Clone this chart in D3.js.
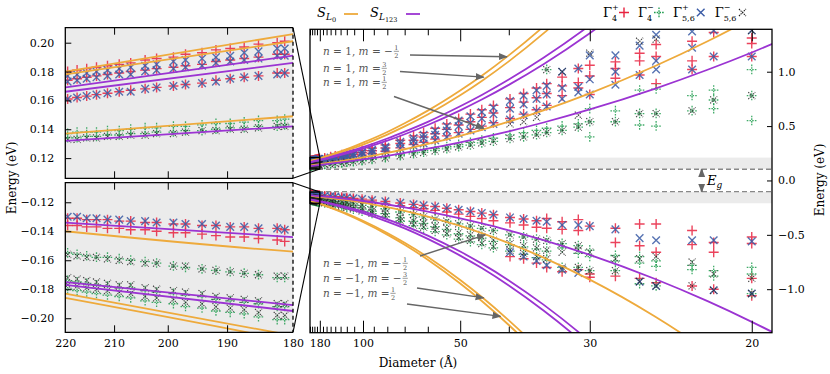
<!DOCTYPE html>
<html>
<head>
<meta charset="utf-8">
<script src="https://cdn.jsdelivr.net/npm/d3@7"></script>
<style>
  body { margin: 0; background: #fff; }
  svg text { font-family: "DejaVu Serif", serif; }
</style>
</head>
<body>
<div id="chart"></div>
<script>
// diameters (Å) of the computed nanocrystals shown in the insets
const insetD = [219.5, 217.5, 215.5, 213.5, 211.3, 209, 206.8, 204.1, 202, 199, 196.9, 194.1, 191.8, 189.5, 187.3, 185.1, 182.3, 181.2];
// diameters below 180 Å shown in the main panel
const mainD = [165, 150, 140, 128, 120, 111, 101, 91.5, 81.3, 72.3, 65.8, 61.6, 57.4, 53.7, 50.4, 47.5, 45, 42.7, 39.8, 37.7, 35.9, 34.6, 32.8, 31.1, 30, 27.8, 26, 24.9, 22.8, 21.7, 20];

// inset levels, one row per level along insetD (eV)
const g4pInset = [
  [0.180,0.181,0.182,0.183,0.184,0.185,0.186,0.188,0.189,0.190,0.192,0.193,0.195,0.196,0.197,0.199,0.200,0.201],
  [0.174,0.175,0.176,0.177,0.178,0.179,0.180,0.181,0.182,0.183,0.184,0.185,0.187,0.188,0.189,0.190,0.192,0.192],
  [0.161,0.162,0.163,0.164,0.165,0.166,0.167,0.168,0.169,0.170,0.171,0.172,0.174,0.175,0.176,0.177,0.179,0.179],
  [-0.131,-0.131,-0.132,-0.132,-0.132,-0.133,-0.133,-0.134,-0.134,-0.135,-0.135,-0.136,-0.136,-0.137,-0.137,-0.138,-0.138,-0.139],
  [-0.136,-0.136,-0.137,-0.137,-0.138,-0.138,-0.139,-0.139,-0.140,-0.141,-0.141,-0.142,-0.143,-0.144,-0.144,-0.145,-0.146,-0.147]
];
const g4mInset = [
  [0.134,0.134,0.135,0.135,0.136,0.136,0.137,0.137,0.138,0.138,0.139,0.139,0.140,0.141,0.141,0.142,0.142,0.143],
  [0.137,0.138,0.138,0.138,0.139,0.139,0.140,0.141,0.141,0.142,0.142,0.143,0.144,0.144,0.145,0.146,0.146,0.147],
  [-0.155,-0.156,-0.157,-0.158,-0.158,-0.159,-0.160,-0.161,-0.162,-0.164,-0.165,-0.166,-0.167,-0.168,-0.169,-0.170,-0.172,-0.172],
  [-0.174,-0.175,-0.176,-0.177,-0.178,-0.179,-0.179,-0.181,-0.182,-0.183,-0.184,-0.185,-0.187,-0.188,-0.189,-0.190,-0.192,-0.192],
  [-0.180,-0.181,-0.182,-0.183,-0.184,-0.185,-0.186,-0.188,-0.189,-0.190,-0.192,-0.193,-0.195,-0.196,-0.197,-0.199,-0.201,-0.201]
];
const g56pInset = [
  [0.177,0.178,0.179,0.180,0.181,0.182,0.183,0.184,0.185,0.187,0.188,0.189,0.190,0.191,0.193,0.194,0.196,0.196],
  [0.173,0.174,0.175,0.176,0.177,0.178,0.178,0.180,0.181,0.182,0.183,0.184,0.186,0.187,0.188,0.189,0.191,0.191],
  [0.161,0.162,0.163,0.164,0.165,0.166,0.166,0.168,0.169,0.170,0.171,0.172,0.173,0.175,0.176,0.177,0.178,0.179],
  [-0.130,-0.130,-0.131,-0.131,-0.132,-0.132,-0.133,-0.133,-0.134,-0.134,-0.135,-0.135,-0.136,-0.137,-0.137,-0.138,-0.138,-0.139]
];
const g56mInset = [
  [0.133,0.133,0.134,0.134,0.135,0.135,0.136,0.136,0.137,0.137,0.138,0.139,0.139,0.140,0.140,0.141,0.142,0.142],
  [-0.156,-0.157,-0.158,-0.158,-0.159,-0.160,-0.161,-0.162,-0.162,-0.164,-0.164,-0.166,-0.167,-0.168,-0.169,-0.170,-0.171,-0.171],
  [-0.172,-0.173,-0.174,-0.175,-0.176,-0.177,-0.177,-0.179,-0.180,-0.181,-0.182,-0.183,-0.185,-0.186,-0.187,-0.188,-0.190,-0.190],
  [-0.177,-0.178,-0.179,-0.180,-0.181,-0.182,-0.183,-0.185,-0.186,-0.187,-0.189,-0.190,-0.192,-0.193,-0.194,-0.196,-0.198,-0.198]
];

// main-panel levels, one list per diameter in mainD (eV)
const g4pMain = [
  [0.207,0.196,0.185,-0.142,-0.150],[0.217,0.205,0.193,-0.146,-0.155],[0.225,0.212,0.198,-0.150,-0.160],
  [0.236,0.222,0.206,-0.155,-0.166],[0.245,0.229,0.212,-0.159,-0.171],[0.258,0.240,0.221,-0.165,-0.178],
  [0.276,0.255,0.233,-0.172,-0.188],[0.297,0.273,0.248,-0.181,-0.199],[0.327,0.298,0.268,-0.193,-0.215],
  [0.37,0.34,0.30,-0.207,-0.232],[0.41,0.37,0.33,-0.22,-0.25],[0.44,0.40,0.35,-0.23,-0.26],
  [0.48,0.43,0.38,-0.24,-0.275],[0.52,0.47,0.41,-0.255,-0.29],[0.57,0.51,0.44,-0.27,-0.31],
  [0.61,0.54,0.47,-0.285,-0.33],[0.65,0.58,0.50,-0.30,-0.35],[0.69,0.62,0.53,-0.315,-0.37],
  [0.75,0.67,0.57,-0.34,-0.39,-0.70],[0.80,0.72,0.61,-0.355,-0.41,-0.72],[0.85,0.76,0.65,-0.37,-0.43,-0.76],
  [0.89,0.80,0.69,-0.35,-0.44,-0.80],[0.95,0.87,0.78,-0.38,-0.45,-0.84],[1.03,0.90,0.85,-0.36,-0.46,-0.82],
  [1.06,0.96,0.79,-0.42,-0.86,-0.89],[1.09,1.03,0.94,-0.44,-0.57,-0.88],[1.17,1.10,0.97,-0.40,-0.60,-0.90],
  [1.25,1.14,0.89,-0.40,-0.66,-0.94],[1.28,1.10,1.02,-0.46,-0.59,-0.97],[1.36,1.14,-0.57,-0.66,-1.0],
  [1.31,1.26,1.14,-0.52,-0.58,-0.90,-1.06]
];
const g4mMain = [
  [0.146,0.149,-0.178,-0.199,-0.208],[0.151,0.155,-0.186,-0.208,-0.219],[0.155,0.159,-0.192,-0.216,-0.228],
  [0.161,0.165,-0.200,-0.227,-0.241],[0.166,0.171,-0.206,-0.235,-0.251],[0.172,0.178,-0.215,-0.247,-0.266],
  [0.181,0.188,-0.226,-0.263,-0.284],[0.193,0.201,-0.241,-0.283,-0.305],[0.208,0.218,-0.26,-0.305,-0.335],
  [0.227,0.239,-0.29,-0.345,-0.375],[0.244,0.258,-0.315,-0.375,-0.415],[0.258,0.274,-0.335,-0.395,-0.44],
  [0.274,0.292,-0.355,-0.425,-0.47],[0.29,0.31,-0.375,-0.45,-0.50],[0.31,0.33,-0.40,-0.49,-0.54],
  [0.325,0.35,-0.42,-0.51,-0.565],[0.345,0.37,-0.44,-0.53,-0.59],[0.36,0.39,-0.46,-0.56,-0.62],
  [0.385,0.42,-0.50,-0.59,-0.65],[0.40,0.44,-0.52,-0.61,-0.68],[0.42,0.46,-0.54,-0.63,-0.71],
  [0.44,0.48,1.02,-0.55,-0.65,-0.73],[0.46,0.50,-0.58,-0.62,-0.80],[0.49,0.52,-0.60,-0.67,-0.80],
  [0.40,0.54,0.66,-0.64,-0.70,-0.83],[0.54,0.64,-0.69,-0.74,-0.83],[0.51,0.615,0.83,-0.70,-0.76,-0.95],
  [0.50,0.615,0.84,-0.74,-0.79,-0.97],[0.64,0.78,-0.78,-0.82],[0.66,0.74,0.83,-0.83,-0.88],
  [0.55,0.78,1.02,-0.80,-0.86,-1.04]
];
const g56pMain = [
  [0.200,0.195,0.184,-0.141],[0.210,0.204,0.192,-0.145],[0.217,0.211,0.197,-0.149],
  [0.227,0.220,0.205,-0.154],[0.235,0.227,0.211,-0.158],[0.246,0.238,0.220,-0.164],
  [0.262,0.252,0.232,-0.171],[0.281,0.270,0.247,-0.180],[0.31,0.295,0.267,-0.192],
  [0.355,0.335,0.295,-0.206],[0.39,0.365,0.32,-0.219],[0.42,0.39,0.34,-0.229],
  [0.46,0.42,0.37,-0.24],[0.50,0.46,0.40,-0.254],[0.55,0.50,0.43,-0.27],
  [0.59,0.53,0.46,-0.284],[0.63,0.57,0.49,-0.30],[0.67,0.61,0.52,-0.314],
  [0.73,0.66,0.56,-0.34,-0.66],[0.78,0.70,0.60,-0.355,-0.70],[0.83,0.75,0.64,-0.37,-0.74],
  [0.87,0.79,0.68,-0.38,-0.78],[1.00,0.85,0.75,-0.41,-0.82],[1.03,0.86,0.81,-0.41,-0.85],
  [1.15,0.93,0.79,-0.42],[1.15,1.00,0.88,-0.45],[1.24,0.97,-0.53,-0.93],
  [1.34,1.10,1.02,-0.55,-0.97],[1.37,1.22,1.02,-0.55],[1.38,1.14,-0.55,-1.01],
  [1.38,1.14,-0.56,-1.04]
];
const g56mMain = [
  [0.145,-0.177,-0.197,-0.205],[0.150,-0.185,-0.206,-0.216],[0.154,-0.191,-0.214,-0.225],
  [0.160,-0.199,-0.225,-0.238],[0.165,-0.205,-0.233,-0.248],[0.171,-0.214,-0.245,-0.262],
  [0.180,-0.225,-0.26,-0.28],[0.192,-0.24,-0.28,-0.30],[0.207,-0.26,-0.30,-0.33],
  [0.226,-0.29,-0.34,-0.37],[0.243,-0.315,-0.37,-0.41],[0.257,-0.335,-0.39,-0.43],
  [0.273,-0.355,-0.42,-0.46],[0.29,-0.375,-0.44,-0.49],[0.31,-0.40,-0.48,-0.53],
  [0.325,-0.42,-0.50,-0.55],[0.345,-0.44,-0.52,-0.58],[0.36,-0.46,-0.55,-0.61],
  [0.385,0.52,-0.50,-0.58,-0.64],[0.40,0.54,-0.52,-0.60,-0.67],[0.42,0.58,-0.54,-0.62,-0.70],
  [0.44,1.02,-0.55,-0.64,-0.72],[0.46,1.00,-0.58,-0.66,-0.80],[0.49,0.60,-0.60,-0.64,-0.80],
  [0.54,1.17,-0.66,-0.83],[0.54,-0.72,-0.83],[0.615,1.28,-0.72,-0.93],
  [0.615,1.30,-0.70,-0.97],[0.64,-0.75,-0.97],[0.74,-0.86,-1.01],
  [0.78,1.38,-0.90,-1.04]
];

// model curves, sampled at curveD
const curveD = [220, 180, 150, 120, 100, 80, 70, 60, 50, 45, 40, 35, 30, 25, 22, 20, 19];
const sL0 = [
  [0.180,0.206,0.238,0.289,0.348,0.446,0.526,0.642,0.827,0.963,1.150,1.415,1.81],
  [0.178,0.201,0.229,0.277,0.330,0.422,0.497,0.607,0.783,0.915,1.095,1.352,1.74],
  [0.137,0.149,0.163,0.186,0.212,0.254,0.287,0.336,0.411,0.466,0.540,0.645,0.801,1.050,1.280,1.49,1.62],
  [-0.140,-0.154,-0.162,-0.181,-0.203,-0.245,-0.279,-0.332,-0.418,-0.484,-0.576,-0.709,-0.912,-1.249,-1.568,-1.865],
  [-0.183,-0.212,-0.247,-0.305,-0.371,-0.483,-0.573,-0.705,-0.916,-1.072,-1.286,-1.590,-2.047],
  [-0.186,-0.216,-0.253,-0.313,-0.382,-0.498,-0.591,-0.729,-0.947,-1.108,-1.329,-1.643,-2.114]
];
const sL123 = [
  [0.169,0.191,0.217,0.260,0.307,0.386,0.449,0.539,0.682,0.786,0.928,1.128,1.426,1.90],
  [0.166,0.186,0.210,0.249,0.293,0.366,0.425,0.510,0.645,0.744,0.879,1.069,1.354,1.81],
  [0.132,0.142,0.154,0.173,0.193,0.227,0.254,0.292,0.351,0.394,0.452,0.533,0.653,0.843,1.018,1.177,1.275],
  [-0.134,-0.144,-0.153,-0.170,-0.189,-0.221,-0.247,-0.286,-0.348,-0.394,-0.458,-0.548,-0.684,-0.904,-1.110,-1.300,-1.417],
  [-0.175,-0.191,-0.211,-0.245,-0.285,-0.357,-0.417,-0.507,-0.654,-0.765,-0.919,-1.142,-1.481,-2.038],
  [-0.177,-0.195,-0.217,-0.256,-0.300,-0.378,-0.441,-0.537,-0.691,-0.806,-0.966,-1.196,-1.544,-2.113]
];

const majorX = [180, 100, 50, 30, 20];
const minorX = [220, 210, 200, 190, 170, 160, 150, 140, 130, 120, 110, 90, 80, 70, 60, 40];
const insetX = [220, 210, 200, 190, 180];
const energyTicks = [-1, -0.5, 0, 0.5, 1];
const topInsetTicks = [0.12, 0.14, 0.16, 0.18, 0.20];
const botInsetTicks = [-0.20, -0.18, -0.16, -0.14, -0.12];

const FONT = "DejaVu Serif, serif";
const orange = "#eeaa3c", purple = "#9b34d2", noteColor = "#555";
const symbols = [
  { inset: g4pInset, main: g4pMain, color: "#e8223f", shape: "plus", r: 5, w: 1.4, dash: null, sup: "+", sub: "4" },
  { inset: g4mInset, main: g4mMain, color: "#1e9c4e", shape: "plus", r: 5, w: 1.3, dash: "1.6,1.1", sup: "\u2212", sub: "4" },
  { inset: g56pInset, main: g56pMain, color: "#3b5ca6", shape: "cross", r: 3.8, w: 1.4, dash: null, sup: "+", sub: "5,6" },
  { inset: g56mInset, main: g56mMain, color: "#222222", shape: "cross", r: 3.5, w: 1.1, dash: "1.4,0.9", sup: "\u2212", sub: "5,6" }
];

const svg = d3.select("#chart").append("svg").attr("width", 830).attr("height", 374)
  .attr("font-family", FONT);

const main = { l: 310, r: 772, t: 29.3, b: 332.7 };
const ins = { l: 65.3, r: 293, t1: 27.7, b1: 178.3, t2: 182.7, b2: 332.3 };

const xMain = d3.scalePow().exponent(-1).domain([220, 19.2]).range([main.l, main.r]);
const yMain = d3.scaleLinear().domain([-1.4, 1.39]).range([main.b, main.t]);
const xIns = d3.scalePow().exponent(-1).domain([220, 180]).range([ins.l, ins.r]);
const yTop = d3.scaleLinear().domain([0.106, 0.2104]).range([ins.b1, ins.t1]);
const yBot = d3.scaleLinear().domain([-0.2097, -0.1065]).range([ins.b2, ins.t2]);

const defs = svg.append("defs");
function clip(id, x0, y0, x1, y1) {
  defs.append("clipPath").attr("id", id).append("rect")
    .attr("x", x0).attr("y", y0).attr("width", x1 - x0).attr("height", y1 - y0);
}
clip("cMain", main.l, main.t, main.r, main.b);
clip("cTop", ins.l, ins.t1, ins.r, ins.b1);
clip("cBot", ins.l, ins.t2, ins.r, ins.b2);
defs.append("marker").attr("id", "arr").attr("viewBox", "0 0 10 10").attr("refX", 9).attr("refY", 5)
  .attr("markerWidth", 9).attr("markerHeight", 9).attr("markerUnits", "userSpaceOnUse").attr("orient", "auto-start-reverse")
  .append("path").attr("d", "M0,1 L10,5 L0,9 z").attr("fill", "#666");

// flatten points
function pointsFor(s) {
  const pts = [];
  s.inset.forEach(row => row.forEach((e, i) => pts.push({ d: insetD[i], e })));
  s.main.forEach((col, i) => col.forEach(e => pts.push({ d: mainD[i], e })));
  return pts;
}
function markerPath(shape, r) {
  return shape === "plus"
    ? `M${-r},0H${r}M0,${-r}V${r}`
    : `M${-r},${-r}L${r},${r}M${-r},${r}L${r},${-r}`;
}

function drawPanel(x, y, clipId, bands) {
  const g = svg.append("g").attr("clip-path", `url(#${clipId})`);
  (bands || []).forEach(b => {
    g.append("rect").attr("x", main.l).attr("width", main.r - main.l)
      .attr("y", y(b[1])).attr("height", y(b[0]) - y(b[1])).attr("fill", "#ebebeb");
  });
  symbols.forEach(s => {
    g.append("g").selectAll("path").data(pointsFor(s)).join("path")
      .attr("transform", p => `translate(${x(p.d)},${y(p.e)})`)
      .attr("d", markerPath(s.shape, s.r))
      .attr("fill", "none").attr("stroke", s.color).attr("stroke-width", s.w)
      .attr("stroke-opacity", 0.85).attr("stroke-dasharray", s.dash);
  });
  const line = d3.line().x(p => x(p[0])).y(p => y(p[1])).curve(d3.curveMonotoneX);
  [[sL0, orange], [sL123, purple]].forEach(([set, col]) => {
    set.forEach(vals => {
      g.append("path").datum(vals.map((v, i) => [curveD[i], v]))
        .attr("d", line).attr("fill", "none").attr("stroke", col).attr("stroke-width", 1.8);
    });
  });
  return g;
}

// inset backgrounds
svg.append("rect").attr("x", ins.l).attr("y", ins.t1).attr("width", ins.r - ins.l).attr("height", ins.b1 - ins.t1).attr("fill", "#ebebeb");
svg.append("rect").attr("x", ins.l).attr("y", ins.t2).attr("width", ins.r - ins.l).attr("height", ins.b2 - ins.t2).attr("fill", "#ebebeb");

// main panel
drawPanel(xMain, yMain, "cMain", [[0.106, 0.2104], [-0.2097, -0.1065]]);
[0.103, -0.103].forEach(e => {
  svg.append("line").attr("x1", main.l).attr("x2", main.r).attr("y1", yMain(e)).attr("y2", yMain(e))
    .attr("stroke", "#888").attr("stroke-width", 1.3).attr("stroke-dasharray", "5,3");
});
drawPanel(xIns, yTop, "cTop");
drawPanel(xIns, yBot, "cBot");

// zoom rectangles in main panel and connectors
const zx0 = xMain(220), zx1 = xMain(180);
[[0.2104, 0.106, ins.t1, ins.b1], [-0.1065, -0.2097, ins.t2, ins.b2]].forEach(([e0, e1, t, b]) => {
  svg.append("rect").attr("x", zx0).attr("y", yMain(e0)).attr("width", zx1 - zx0).attr("height", yMain(e1) - yMain(e0))
    .attr("fill", "none").attr("stroke", "#000").attr("stroke-width", 1.4);
  svg.append("line").attr("x1", ins.r).attr("y1", t).attr("x2", zx1).attr("y2", yMain(e0)).attr("stroke", "#000").attr("stroke-width", 1.1);
  svg.append("line").attr("x1", ins.r).attr("y1", b).attr("x2", zx1).attr("y2", yMain(e1)).attr("stroke", "#000").attr("stroke-width", 1.1);
});

// axes styling helper
function styleAxis(g) {
  g.select(".domain").remove();
  g.attr("font-family", FONT).attr("font-size", 11);
  g.selectAll(".tick line").attr("stroke", "#000").attr("stroke-width", 1);
  g.selectAll(".tick text").attr("fill", "#000");
}
const fmtInt = d3.format("d");
svg.append("g").attr("transform", `translate(0,${main.b})`)
  .call(d3.axisBottom(xMain).tickValues(majorX).tickSize(-12).tickPadding(7).tickFormat(fmtInt)).call(styleAxis);
svg.append("g").attr("transform", `translate(0,${main.b})`)
  .call(d3.axisBottom(xMain).tickValues(minorX).tickSize(-6).tickFormat("")).call(styleAxis);
svg.append("g").attr("transform", `translate(0,${main.t})`)
  .call(d3.axisTop(xMain).tickValues(majorX).tickSize(-12).tickFormat("")).call(styleAxis);
svg.append("g").attr("transform", `translate(0,${main.t})`)
  .call(d3.axisTop(xMain).tickValues(minorX).tickSize(-6).tickFormat("")).call(styleAxis);
svg.append("g").attr("transform", `translate(${main.r},0)`)
  .call(d3.axisRight(yMain).tickValues(energyTicks).tickSize(-5).tickPadding(6).tickFormat(d3.format(".1f"))).call(styleAxis);

// inset axes
svg.append("g").attr("transform", `translate(${ins.l},0)`)
  .call(d3.axisLeft(yTop).tickValues(topInsetTicks).tickSize(-6).tickPadding(11).tickFormat(d3.format(".2f"))).call(styleAxis);
svg.append("g").attr("transform", `translate(${ins.l},0)`)
  .call(d3.axisLeft(yBot).tickValues(botInsetTicks).tickSize(-6).tickPadding(11).tickFormat(d3.format(".2f"))).call(styleAxis);
[ins.b1, ins.b2].forEach(y0 => svg.append("g").attr("transform", `translate(0,${y0})`)
  .call(d3.axisBottom(xIns).tickValues([210, 200, 190]).tickSize(-7).tickFormat("")).call(styleAxis));
[ins.t1, ins.t2].forEach(y0 => svg.append("g").attr("transform", `translate(0,${y0})`)
  .call(d3.axisTop(xIns).tickValues([210, 200, 190]).tickSize(-7).tickFormat("")).call(styleAxis));
svg.append("g").attr("transform", `translate(0,${ins.b2})`)
  .call(d3.axisBottom(xIns).tickValues(insetX).tickSize(0).tickPadding(7).tickFormat(fmtInt)).call(styleAxis);

// frames
svg.append("rect").attr("x", main.l).attr("y", main.t).attr("width", main.r - main.l).attr("height", main.b - main.t)
  .attr("fill", "none").attr("stroke", "#000").attr("stroke-width", 1.3);
[[ins.t1, ins.b1], [ins.t2, ins.b2]].forEach(([t, b]) => {
  svg.append("path").attr("d", `M${ins.r},${t}H${ins.l}V${b}H${ins.r}`).attr("fill", "none").attr("stroke", "#000").attr("stroke-width", 1.3);
  svg.append("line").attr("x1", ins.r).attr("x2", ins.r).attr("y1", t).attr("y2", b)
    .attr("stroke", "#000").attr("stroke-width", 1.3).attr("stroke-dasharray", "4,3");
});

// axis titles
svg.append("text").attr("x", 418).attr("y", 367).attr("text-anchor", "middle").attr("font-size", 12).text("Diameter (\u00c5)");
svg.append("text").attr("transform", "translate(16,178) rotate(-90)").attr("text-anchor", "middle").attr("font-size", 12).text("Energy (eV)");
svg.append("text").attr("transform", "translate(824,180) rotate(-90)").attr("text-anchor", "middle").attr("font-size", 12).text("Energy (eV)");

// annotations
function note(x, y, nVal, sign, num, den) {
  const g = svg.append("g").attr("fill", noteColor);
  const t = g.append("text").attr("x", x).attr("y", y).attr("font-size", 10.5);
  t.append("tspan").attr("font-style", "italic").text("n");
  t.append("tspan").text(" = " + nVal + ", ");
  t.append("tspan").attr("font-style", "italic").text("m");
  t.append("tspan").text(" = " + sign);
  const fx = x + t.node().getComputedTextLength() + 3.5;
  g.append("text").attr("x", fx).attr("y", y - 4.8).attr("text-anchor", "middle").attr("font-size", 6.5).text(num);
  g.append("line").attr("x1", fx - 2.6).attr("x2", fx + 2.6).attr("y1", y - 3.7).attr("y2", y - 3.7).attr("stroke", noteColor).attr("stroke-width", 0.6);
  g.append("text").attr("x", fx).attr("y", y + 2.6).attr("text-anchor", "middle").attr("font-size", 6.5).text(den);
}
function arrow(x1, y1, x2, y2) {
  svg.append("line").attr("x1", x1).attr("y1", y1).attr("x2", x2).attr("y2", y2)
    .attr("stroke", "#666").attr("stroke-width", 1.4).attr("marker-end", "url(#arr)");
}
note(323, 55, "1", "\u2212", "1", "2");
note(323, 72, "1", "", "3", "2");
note(323, 86, "1", "", "1", "2");
arrow(410, 55, xMain(40.3), yMain(1.138));
arrow(400, 71.5, xMain(44.6), yMain(0.95));
arrow(394, 96.5, xMain(44.6), yMain(0.48));
note(323, 267, "\u22121", "\u2212", "1", "2");
note(323, 282, "\u22121", "\u2212", "3", "2");
note(323, 297, "\u22121", "", "1", "2");
arrow(420, 256, xMain(44.3), yMain(-0.5));
arrow(417, 288, xMain(44.6), yMain(-1.08));
arrow(407, 304, xMain(41.4), yMain(-1.25));

// band gap arrow
svg.append("line").attr("x1", 701.7).attr("x2", 701.7).attr("y1", yMain(0.0) - 4).attr("y2", yMain(0.103))
  .attr("stroke", "#666").attr("stroke-width", 2).attr("marker-end", "url(#arr)");
svg.append("line").attr("x1", 701.7).attr("x2", 701.7).attr("y1", yMain(0.0) + 4).attr("y2", yMain(-0.103))
  .attr("stroke", "#666").attr("stroke-width", 2).attr("marker-end", "url(#arr)");
const eg = svg.append("text").attr("x", 707).attr("y", 185).attr("font-size", 13);
eg.append("tspan").attr("font-style", "italic").text("E");
eg.append("tspan").attr("font-style", "italic").attr("font-size", 9).attr("dy", 3).text("g");

// legends
function sLabel(x, sub, col, lx) {
  const t = svg.append("text").attr("x", x).attr("y", 17).attr("font-size", 13);
  t.append("tspan").attr("font-style", "italic").text("S");
  t.append("tspan").attr("font-style", "italic").attr("font-size", 9).attr("dy", 3).text("L");
  t.append("tspan").attr("font-size", 6.5).attr("dy", 2).text(sub);
  svg.append("line").attr("x1", lx).attr("x2", lx + 14).attr("y1", 14).attr("y2", 14).attr("stroke", col).attr("stroke-width", 1.8);
}
sLabel(317, "0", orange, 344);
sLabel(370, "123", purple, 406);

let lx = 603;
symbols.forEach(s => {
  svg.append("text").attr("x", lx).attr("y", 17).attr("font-size", 13).text("\u0393");
  svg.append("text").attr("x", lx + 9).attr("y", 10).attr("font-size", 8).text(s.sup);
  const st = svg.append("text").attr("x", lx + 9).attr("y", 21).attr("font-size", 8).text(s.sub);
  const w = Math.max(st.node().getComputedTextLength(), 6);
  const mx = lx + 9 + w + 6;
  svg.append("path").attr("transform", `translate(${mx},12.5)`).attr("d", markerPath(s.shape, s.r))
    .attr("fill", "none").attr("stroke", s.color).attr("stroke-width", s.w).attr("stroke-dasharray", s.dash);
  lx = mx + 14;
});
</script>
</body>
</html>
